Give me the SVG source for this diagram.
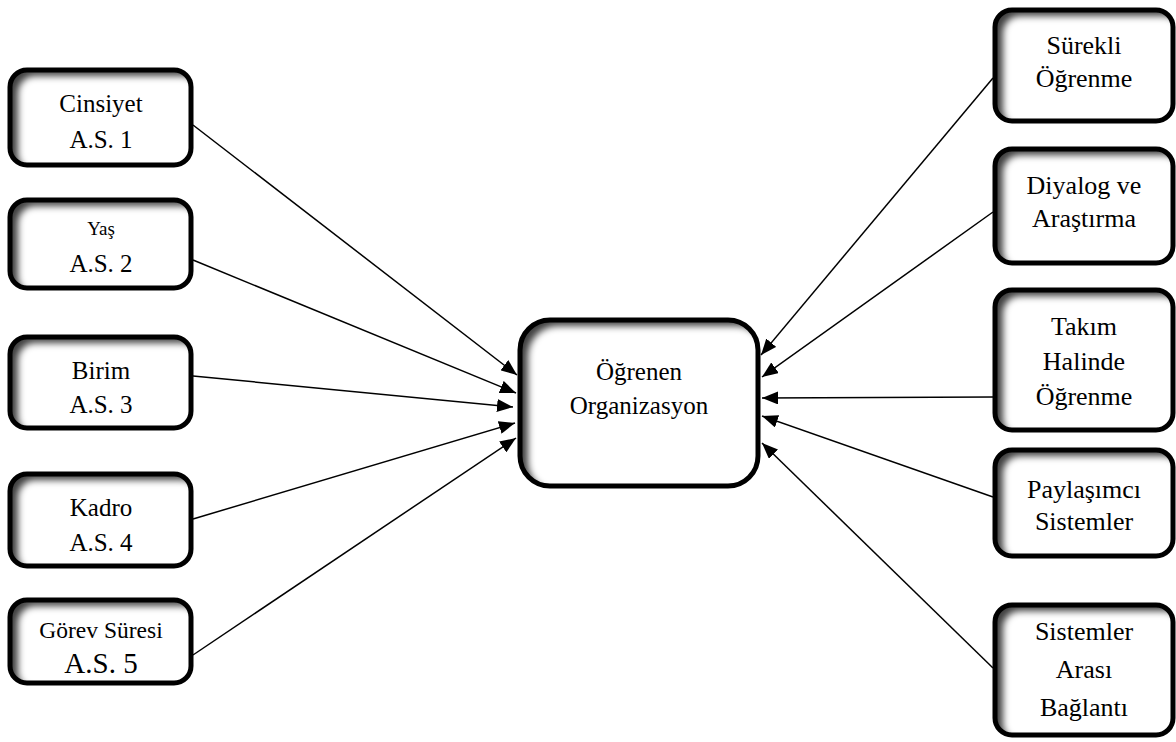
<svg xmlns="http://www.w3.org/2000/svg" width="1176" height="742" viewBox="0 0 1176 742">
  <defs>
    <style>
      .border { fill: none; stroke: #000; stroke-width: 5; }
      .lbl { fill: #000; text-anchor: middle; font-size: 25px; }
      .r { font-size: 26px; }
      .small { font-size: 19px; }
      .mid { font-size: 23.5px; }
      .big { font-size: 29px; }
      .conn line { stroke: #000; stroke-width: 1.5; }
    </style>
    <!-- soft shadow along the inner top/left edge of each box -->
    <filter id="inset" x="-10%" y="-10%" width="120%" height="120%" color-interpolation-filters="sRGB">
      <feFlood flood-color="#000" flood-opacity="0.75" result="f"/>
      <feComposite in="f" in2="SourceAlpha" operator="out" result="outside"/>
      <feOffset dx="8" dy="6" result="shifted"/>
      <feGaussianBlur stdDeviation="3.5" result="blur"/>
      <feComposite in="blur" in2="SourceAlpha" operator="in" result="shadow"/>
      <feMerge>
        <feMergeNode in="SourceGraphic"/>
        <feMergeNode in="shadow"/>
      </feMerge>
    </filter>
    <marker id="arrow" markerUnits="userSpaceOnUse" markerWidth="17" markerHeight="13" refX="16" refY="6.5" orient="auto">
      <path d="M0,0 L16,6.5 L0,13 z" fill="#000"/>
    </marker>
  </defs>

  <rect width="1176" height="742" fill="#fff"/>

  <!-- connectors -->
  <g id="connectors" class="conn">
    <line x1="193" y1="125" x2="517" y2="375" marker-end="url(#arrow)"/>
    <line x1="193" y1="260" x2="516" y2="393" marker-end="url(#arrow)"/>
    <line x1="193" y1="376" x2="513" y2="407" marker-end="url(#arrow)"/>
    <line x1="193" y1="519" x2="515" y2="423" marker-end="url(#arrow)"/>
    <line x1="193" y1="655" x2="516" y2="438" marker-end="url(#arrow)"/>

    <line x1="993" y1="78" x2="761" y2="355" marker-end="url(#arrow)"/>
    <line x1="993" y1="212" x2="762" y2="377" marker-end="url(#arrow)"/>
    <line x1="993" y1="397" x2="762" y2="398" marker-end="url(#arrow)"/>
    <line x1="993" y1="497" x2="762" y2="416" marker-end="url(#arrow)"/>
    <line x1="993" y1="668" x2="762" y2="443" marker-end="url(#arrow)"/>
  </g>

  <g font-family="'Liberation Serif', 'Times New Roman', serif">
  <!-- left column -->
  <g id="cinsiyet">
    <rect fill="#fff" filter="url(#inset)" x="10" y="70" width="181" height="95" rx="17"/>
    <rect class="border" x="10" y="70" width="181" height="95" rx="17"/>
    <text class="lbl" x="101" y="112">Cinsiyet</text>
    <text class="lbl" x="101" y="148">A.S. 1</text>
  </g>
  <g id="yas">
    <rect fill="#fff" filter="url(#inset)" x="10" y="200" width="181" height="88" rx="17"/>
    <rect class="border" x="10" y="200" width="181" height="88" rx="17"/>
    <text class="lbl small" x="101" y="235">Yaş</text>
    <text class="lbl" x="101" y="272">A.S. 2</text>
  </g>
  <g id="birim">
    <rect fill="#fff" filter="url(#inset)" x="10" y="337" width="181" height="91" rx="17"/>
    <rect class="border" x="10" y="337" width="181" height="91" rx="17"/>
    <text class="lbl" x="101" y="379">Birim</text>
    <text class="lbl" x="101" y="413">A.S. 3</text>
  </g>
  <g id="kadro">
    <rect fill="#fff" filter="url(#inset)" x="10" y="474" width="181" height="92" rx="17"/>
    <rect class="border" x="10" y="474" width="181" height="92" rx="17"/>
    <text class="lbl" x="101" y="516">Kadro</text>
    <text class="lbl" x="101" y="551">A.S. 4</text>
  </g>
  <g id="gorev-suresi">
    <rect fill="#fff" filter="url(#inset)" x="10" y="600" width="181" height="83" rx="17"/>
    <rect class="border" x="10" y="600" width="181" height="83" rx="17"/>
    <text class="lbl mid" x="101" y="638">Görev Süresi</text>
    <text class="lbl big" x="101" y="673">A.S. 5</text>
  </g>

  <!-- centre -->
  <g id="ogrenen-organizasyon">
    <rect fill="#fff" filter="url(#inset)" x="520" y="320" width="238" height="166" rx="30"/>
    <rect class="border" x="520" y="320" width="238" height="166" rx="30"/>
    <text class="lbl" x="639" y="380">Öğrenen</text>
    <text class="lbl" x="639" y="414">Organizasyon</text>
  </g>

  <!-- right column -->
  <g id="surekli-ogrenme">
    <rect fill="#fff" filter="url(#inset)" x="995" y="10" width="178" height="111" rx="17"/>
    <rect class="border" x="995" y="10" width="178" height="111" rx="17"/>
    <text class="lbl r" x="1084" y="54">Sürekli</text>
    <text class="lbl r" x="1084" y="87">Öğrenme</text>
  </g>
  <g id="diyalog-arastirma">
    <rect fill="#fff" filter="url(#inset)" x="995" y="149" width="178" height="114" rx="17"/>
    <rect class="border" x="995" y="149" width="178" height="114" rx="17"/>
    <text class="lbl r" x="1084" y="194">Diyalog ve</text>
    <text class="lbl r" x="1084" y="227">Araştırma</text>
  </g>
  <g id="takim-halinde-ogrenme">
    <rect fill="#fff" filter="url(#inset)" x="995" y="290" width="178" height="140" rx="17"/>
    <rect class="border" x="995" y="290" width="178" height="140" rx="17"/>
    <text class="lbl r" x="1084" y="335">Takım</text>
    <text class="lbl r" x="1084" y="370">Halinde</text>
    <text class="lbl r" x="1084" y="405">Öğrenme</text>
  </g>
  <g id="paylasimci-sistemler">
    <rect fill="#fff" filter="url(#inset)" x="995" y="450" width="178" height="106" rx="17"/>
    <rect class="border" x="995" y="450" width="178" height="106" rx="17"/>
    <text class="lbl r" x="1084" y="498">Paylaşımcı</text>
    <text class="lbl r" x="1084" y="530">Sistemler</text>
  </g>
  <g id="sistemler-arasi-baglanti">
    <rect fill="#fff" filter="url(#inset)" x="995" y="605" width="178" height="130" rx="17"/>
    <rect class="border" x="995" y="605" width="178" height="130" rx="17"/>
    <text class="lbl r" x="1084" y="640">Sistemler</text>
    <text class="lbl r" x="1084" y="678">Arası</text>
    <text class="lbl r" x="1084" y="716">Bağlantı</text>
  </g>
  </g>
</svg>
